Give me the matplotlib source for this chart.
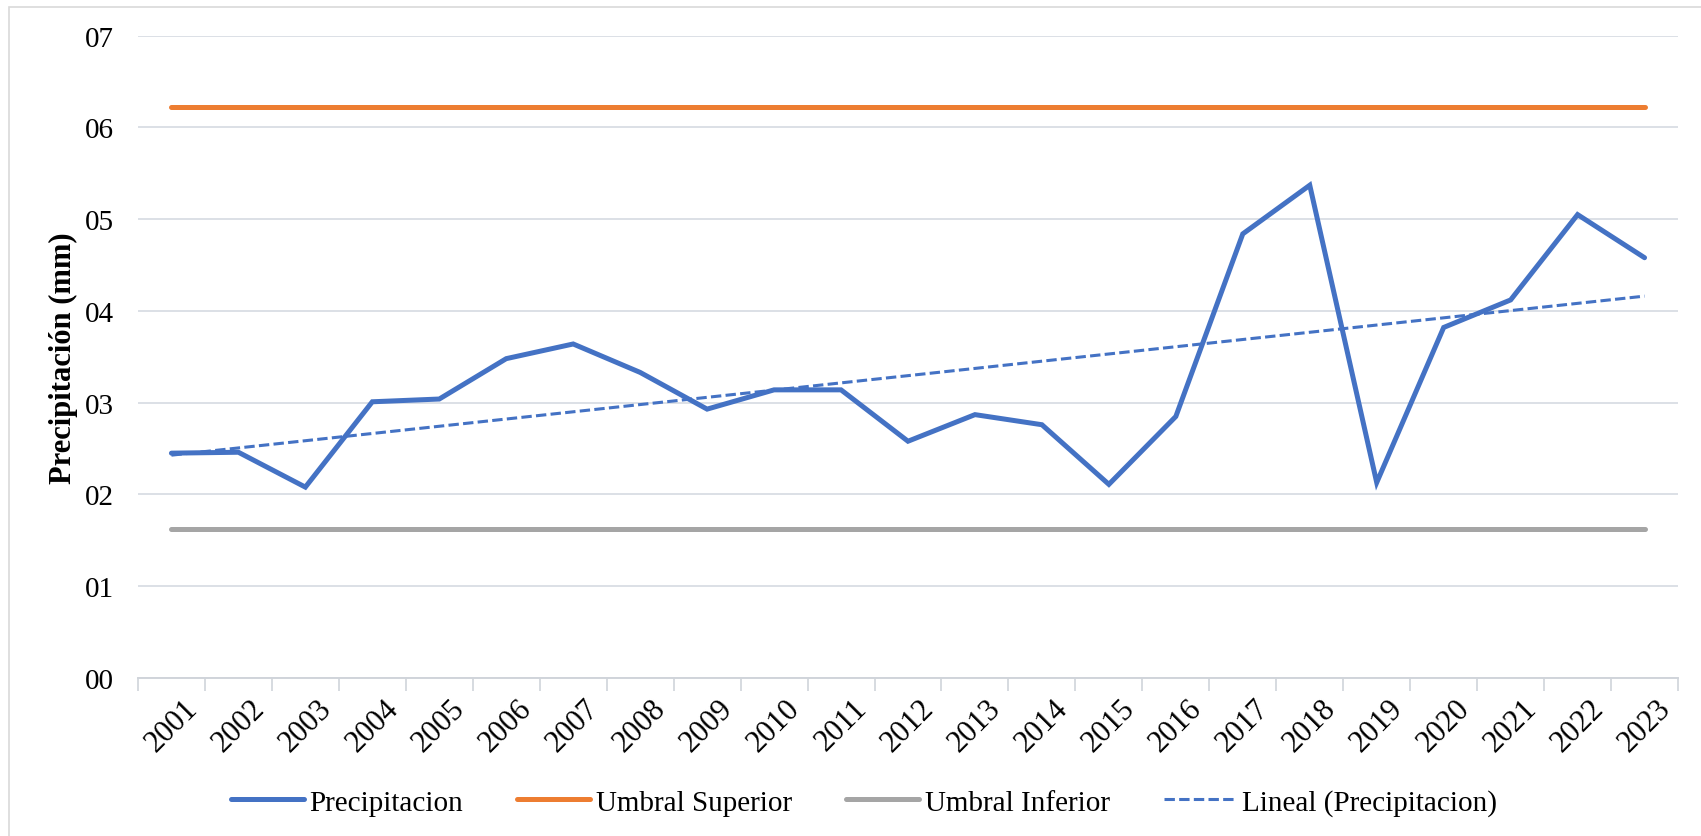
"""
Precipitación anual 2001-2023 con umbrales y tendencia lineal.
"""

import numpy as np
import matplotlib.pyplot as plt
from matplotlib.patches import Rectangle

# Datos
years = [str(y) for y in range(2001, 2024)]
precip = [2.45, 2.46, 2.08, 3.01, 3.04, 3.48, 3.64, 3.33, 2.93, 3.14, 3.14,
          2.58, 2.87, 2.76, 2.11, 2.85, 4.84, 5.37, 2.13, 3.82, 4.12, 5.05, 4.58]
umbral_sup = 6.22
umbral_inf = 1.62
ytick_vals = [0, 1, 2, 3, 4, 5, 6, 7]
ytick_labels = ['00', '01', '02', '03', '04', '05', '06', '07']

BLUE = '#4472C4'
ORANGE = '#ED7D31'
GRAY = '#A5A5A5'
GRID = '#DCE0E6'

plt.rcParams['font.family'] = ['Liberation Serif', 'DejaVu Serif']

fig = plt.figure(figsize=(17.01, 8.37), dpi=100)
ax = fig.add_axes([0.0811, 0.1888, 0.9054, 0.7674])

n = len(years)
x = np.arange(n) + 0.5

# Tendencia lineal (como la línea de tendencia de Excel)
coef = np.polyfit(np.arange(1, n + 1), precip, 1)
trend = np.polyval(coef, np.arange(1, n + 1))

ax.plot(x, [umbral_sup] * n, color=ORANGE, lw=3.6, solid_capstyle='round',
        label='Umbral Superior', zorder=3)
ax.plot(x, [umbral_inf] * n, color=GRAY, lw=3.6, solid_capstyle='round',
        label='Umbral Inferior', zorder=3)
ax.plot(x, precip, color=BLUE, lw=3.6, solid_capstyle='round',
        solid_joinstyle='miter', label='Precipitacion', zorder=4)
ax.plot(x, trend, color=BLUE, lw=2.2, linestyle=(0, (3.4, 1.4)),
        label='Lineal (Precipitacion)', zorder=4)

ax.set_xlim(0, n)
ax.set_ylim(0, 7)

ax.set_yticks(ytick_vals)
ax.set_yticklabels(ytick_labels, fontsize=21)
ax.tick_params(axis='y', length=0, pad=17)
ax.yaxis.grid(True, color=GRID, lw=1.4)
ax.set_axisbelow(True)

ax.set_xticks(x)
ax.set_xticklabels(years, rotation=45, fontsize=22)
ax.set_xticks(np.arange(n + 1), minor=True)
ax.tick_params(axis='x', which='major', length=0, pad=11)
ax.tick_params(axis='x', which='minor', length=9, color='#D0D4DA', width=1.2)

for s in ['top', 'right', 'left']:
    ax.spines[s].set_visible(False)
ax.spines['bottom'].set_color('#D0D4DA')
ax.spines['bottom'].set_linewidth(1.4)

ax.set_ylabel('Precipitación (mm)', fontsize=22, fontweight='bold', labelpad=5)

# Leyenda en orden del original
h, l = ax.get_legend_handles_labels()
order = [2, 0, 1, 3]
fig.legend([h[i] for i in order], [l[i] for i in order], loc='center',
           bbox_to_anchor=(0.508, 0.04), ncol=4, frameon=False, fontsize=21,
           handlelength=2.5, columnspacing=1.85, handletextpad=0.2)

fig.patches.append(Rectangle((0.005, -0.02), 1.1, 1.011, transform=fig.transFigure,
                             fill=False, edgecolor='#D9D9D9', lw=1.2))

fig.savefig('out.png', dpi=100)
plt.close(fig)
